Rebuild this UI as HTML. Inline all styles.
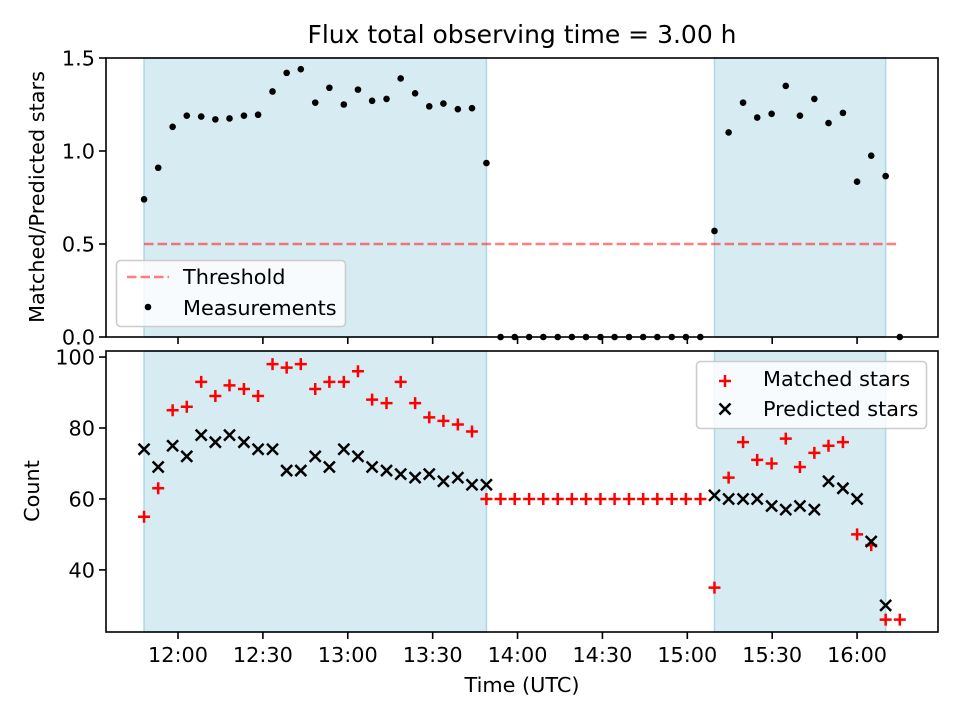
<!DOCTYPE html>
<html><head><meta charset="utf-8"><style>
html,body{margin:0;padding:0;background:#fff;}
svg{display:block;font-family:"DejaVu Sans","Liberation Sans",sans-serif;}
</style></head><body>
<svg id="chart" width="960" height="720" viewBox="0 0 960 720" xmlns="http://www.w3.org/2000/svg">
<rect x="0" y="0" width="960" height="720" fill="#fff"/>
<text x="522" y="43" font-size="25" text-anchor="middle" fill="#000">Flux total observing time = 3.00 h</text>
<g id="top"></g>
<g id="bot"></g>
<text transform="translate(44,197) rotate(-90)" font-size="20.8" text-anchor="middle" fill="#000">Matched/Predicted stars</text>
<text transform="translate(39,491) rotate(-90)" font-size="20.8" text-anchor="middle" fill="#000">Count</text>
<text x="522" y="692" font-size="20.8" text-anchor="middle" fill="#000">Time (UTC)</text>
</svg>
<script>
// minutes since midnight
const times = [708.0,713.0,718.1,723.1,728.2,733.2,738.2,743.3,748.3,753.4,758.4,763.4,768.5,773.5,778.6,783.6,788.6,793.7,798.7,803.8,808.8,813.8,818.9,823.9,829.0,834.0,839.0,844.1,849.1,854.2,859.2,864.2,869.3,874.3,879.4,884.4,889.4,894.5,899.5,904.6,909.6,914.6,919.7,924.7,929.8,934.8,939.8,944.9,949.9,955.0,960.0,965.0,970.1,975.1];
const ratio = [0.74,0.91,1.13,1.19,1.185,1.17,1.175,1.19,1.195,1.32,1.42,1.44,1.26,1.34,1.25,1.33,1.27,1.28,1.39,1.31,1.24,1.255,1.225,1.23,0.935,0,0,0,0,0,0,0,0,0,0,0,0,0,0,0,0.57,1.10,1.26,1.18,1.20,1.35,1.19,1.28,1.15,1.205,0.835,0.975,0.865,0];
const matched = [55,63,85,86,93,89,92,91,89,98,97,98,91,93,93,96,88,87,93,87,83,82,81,79,60,60,60,60,60,60,60,60,60,60,60,60,60,60,60,60,35,66,76,71,70,77,69,73,75,76,50,47,26,26];
const predicted = [74,69,75,72,78,76,78,76,74,74,68,68,72,69,74,72,69,68,67,66,67,65,66,64,64,null,null,null,null,null,null,null,null,null,null,null,null,null,null,null,61,60,60,60,58,57,58,57,65,63,60,48,30,null];
const spanStarts = [708.0,909.6];
const spanEnds = [829.0,970.1];
const threshold = 0.5;
const xTickVals = [720,750,780,810,840,870,900,930,960];
const xTickLabels = ["12:00","12:30","13:00","13:30","14:00","14:30","15:00","15:30","16:00"];
const topTicks = [0,0.5,1.0,1.5];
const topTickLabels = ["0.0","0.5","1.0","1.5"];
const botTicks = [40,60,80,100];
const botTickLabels = ["40","60","80","100"];

const NS="http://www.w3.org/2000/svg";
const L=106,R=938;
const X0=694.55,X1=988.6;
const x=t=>L+(t-X0)/(X1-X0)*(R-L);
const TT=58,TB=337,BT=351,BB=632;
const yT=v=>TB-(v-0)/(1.5-0)*(TB-TT);
const yB=v=>BB-(v-22.5)/(101.7-22.5)*(BB-BT);
function el(tag,attrs,parent){const e=document.createElementNS(NS,tag);for(const k in attrs)e.setAttribute(k,attrs[k]);parent.appendChild(e);return e;}

function axes(g,top,bottom,yf,ticks,labels,name,showX){
  for(let i=0;i<spanStarts.length;i++){
    const r=el('rect',{x:x(spanStarts[i]),y:top,width:x(spanEnds[i])-x(spanStarts[i]),height:bottom-top,fill:'#add8e6','fill-opacity':0.5,stroke:'#add8e6','stroke-width':1.5},g);
    
    
  }
  ticks.forEach((v,i)=>{
    const y=yf(v);
    el('line',{x1:L-7,x2:L,y1:y,y2:y,stroke:'#000','stroke-width':1.6},g);
    const t=el('text',{x:L-11,y:y+7.5,'font-size':20.8,'text-anchor':'end'},g);
    t.textContent=labels[i];
    
    
  });
  xTickVals.forEach((v,i)=>{
    const xx=x(v);
    el('line',{x1:xx,x2:xx,y1:bottom,y2:bottom+7,stroke:'#000','stroke-width':1.6},g);
    if(showX){
      const t=el('text',{x:xx,y:bottom+30,'font-size':20.8,'text-anchor':'middle'},g);
      t.textContent=xTickLabels[i];
      
      
    }
  });
}
const gt=document.getElementById('top'), gb=document.getElementById('bot');
axes(gt,TT,TB,yT,topTicks,topTickLabels,'top',false);
axes(gb,BT,BB,yB,botTicks,botTickLabels,'bottom',true);

// threshold
const th=el('line',{x1:x(times[0]),x2:x(times[times.length-1]),y1:yT(threshold),y2:yT(threshold),stroke:'#ff0000','stroke-opacity':0.5,'stroke-width':2.5,'stroke-dasharray':'9.5 4'},gt);



times.forEach((t,i)=>{
  const c=el('circle',{cx:x(t),cy:yT(ratio[i]),r:3.3,fill:'#000'},gt);
  
  
});
times.forEach((t,i)=>{
  const cx=x(t),cy=yB(matched[i]);
  const p=el('path',{d:`M${cx-6} ${cy}H${cx+6}M${cx} ${cy-6}V${cy+6}`,stroke:'#ff0000','stroke-width':2.5,fill:'none'},gb);
  
  
});
times.forEach((t,i)=>{
  if(predicted[i]==null)return;
  const cx=x(t),cy=yB(predicted[i]),d=5.5;
  const p=el('path',{d:`M${cx-d} ${cy-d}L${cx+d} ${cy+d}M${cx-d} ${cy+d}L${cx+d} ${cy-d}`,stroke:'#000','stroke-width':2.5,fill:'none'},gb);
  
  
});

// frames
[[gt,TT,TB,'top-axes-frame'],[gb,BT,BB,'bottom-axes-frame']].forEach(a=>{
  const r=el('rect',{x:L,y:a[1],width:R-L,height:a[2]-a[1],fill:'none',stroke:'#000','stroke-width':1.6},a[0]);
  
  
});

// legends
const lg1=el('g',{},gt);


el('rect',{x:116.5,y:260.5,width:229,height:66,rx:4,fill:'#fff','fill-opacity':0.8,stroke:'#cccccc','stroke-width':1.6},lg1);
el('line',{x1:127,x2:169,y1:277,y2:277,stroke:'#ff0000','stroke-opacity':0.5,'stroke-width':2.5,'stroke-dasharray':'9.5 4'},lg1);
let t=el('text',{x:183,y:284,'font-size':20.8},lg1);t.textContent='Threshold';


el('circle',{cx:148,cy:307,r:3.3,fill:'#000'},lg1);
t=el('text',{x:183,y:315,'font-size':20.8},lg1);t.textContent='Measurements';



const lg2=el('g',{},gb);


el('rect',{x:696.5,y:361.5,width:230,height:67,rx:4,fill:'#fff','fill-opacity':0.8,stroke:'#cccccc','stroke-width':1.6},lg2);
el('path',{d:'M719 381H731M725 375V387',stroke:'#ff0000','stroke-width':2.5},lg2);
t=el('text',{x:763,y:386,'font-size':20.8},lg2);t.textContent='Matched stars';


el('path',{d:'M719.5 403.5L730.5 414.5M719.5 414.5L730.5 403.5',stroke:'#000','stroke-width':2.5},lg2);
t=el('text',{x:763,y:416,'font-size':20.8},lg2);t.textContent='Predicted stars';


</script>
</body></html>
